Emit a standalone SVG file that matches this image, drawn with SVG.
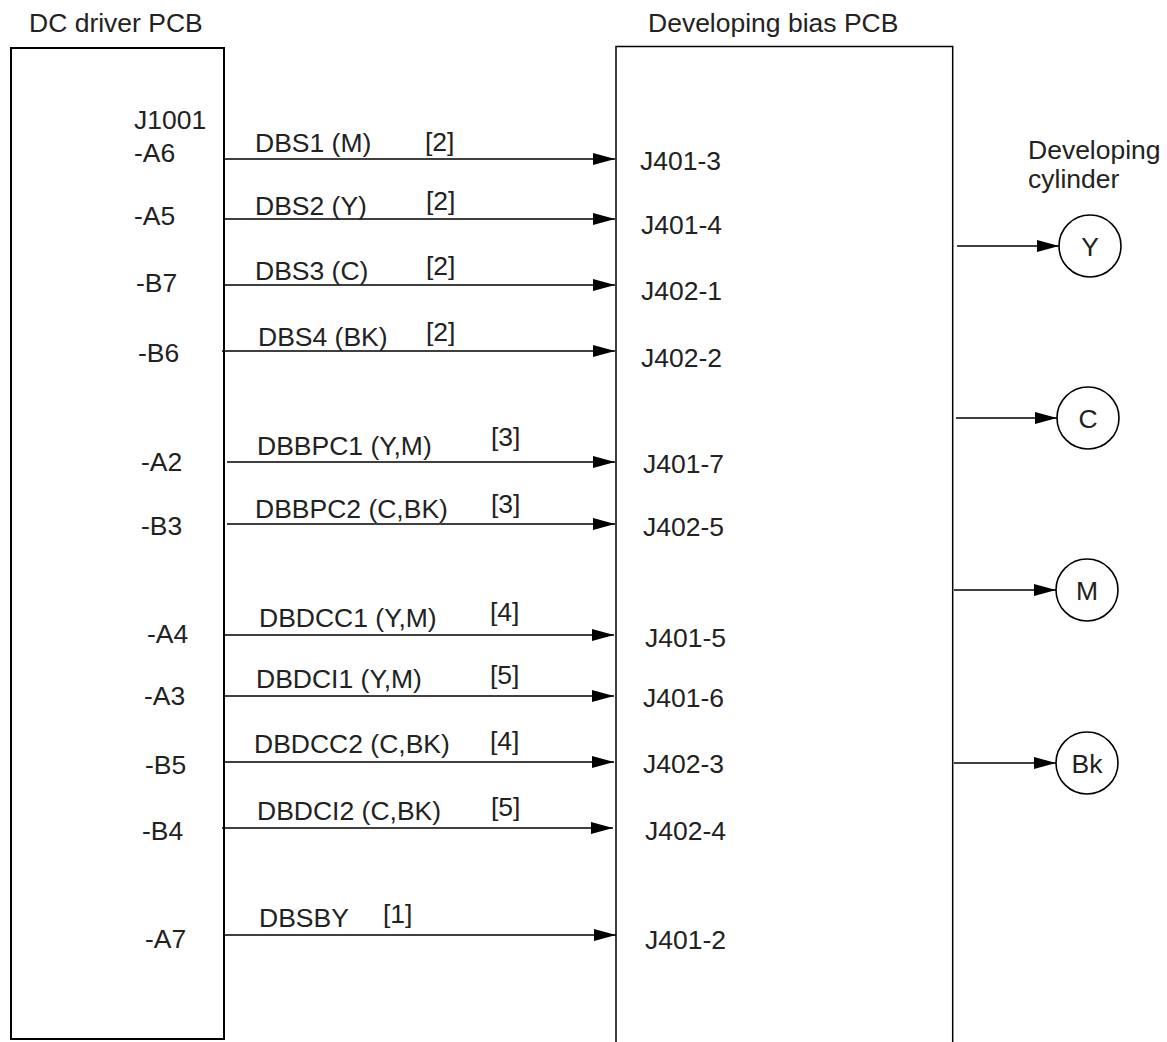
<svg xmlns="http://www.w3.org/2000/svg" width="1167" height="1042" viewBox="0 0 1167 1042">
<style>
text{font-family:"Liberation Sans",Arial,sans-serif;font-size:26.5px;fill:#222}
.box{fill:none;stroke:#000;stroke-width:2}
.rbox{fill:none;stroke:#000;stroke-width:1.5}
.wire{fill:none;stroke:#000;stroke-width:1.5;marker-end:url(#ah)}
.cyl{fill:#fff;stroke:#000;stroke-width:1.6}
.mid{text-anchor:middle}
</style>
<defs>
<marker id="ah" markerUnits="userSpaceOnUse" markerWidth="23" markerHeight="13" refX="22" refY="6" orient="auto">
<path d="M0,0 L22,6 L0,12 z" fill="#000"/>
</marker>
</defs>
<rect width="1167" height="1042" fill="#fff"/>

<g id="dc-driver-pcb">
<text x="29" y="32">DC driver PCB</text>
<rect class="box" x="11" y="48" width="213" height="991"/>
<text x="134" y="129">J1001</text>
<text x="134" y="162">-A6</text>
<text x="134" y="225">-A5</text>
<text x="136" y="292">-B7</text>
<text x="138" y="362">-B6</text>
<text x="141" y="471">-A2</text>
<text x="141" y="535">-B3</text>
<text x="147" y="643">-A4</text>
<text x="144" y="705">-A3</text>
<text x="145" y="774">-B5</text>
<text x="142" y="840">-B4</text>
<text x="145" y="948">-A7</text>
</g>

<g id="developing-bias-pcb">
<text x="648" y="32">Developing bias PCB</text>
<path class="rbox" d="M616,1042 V46.5 H952.7 V1042"/>
<text x="640" y="170">J401-3</text>
<text x="641" y="234">J401-4</text>
<text x="641" y="300">J402-1</text>
<text x="641" y="367">J402-2</text>
<text x="643" y="473">J401-7</text>
<text x="643" y="536">J402-5</text>
<text x="645" y="647">J401-5</text>
<text x="643" y="707">J401-6</text>
<text x="643" y="773">J402-3</text>
<text x="645" y="840">J402-4</text>
<text x="645" y="949">J401-2</text>
</g>

<g id="developing-cylinder-label">
<text x="1028" y="159">Developing</text>
<text x="1028" y="188">cylinder</text>
</g>
<g id="cyl-Y">
<circle class="cyl" cx="1090" cy="246" r="31"/>
<text class="mid" x="1090" y="256">Y</text>
</g>
<g id="cyl-C">
<circle class="cyl" cx="1088" cy="418" r="31"/>
<text class="mid" x="1088" y="428">C</text>
</g>
<g id="cyl-M">
<circle class="cyl" cx="1087" cy="590" r="31"/>
<text class="mid" x="1087" y="600">M</text>
</g>
<g id="cyl-Bk">
<circle class="cyl" cx="1087" cy="763" r="31"/>
<text class="mid" x="1087" y="773">Bk</text>
</g>

<g id="connectors">
<line class="wire" x1="224" y1="159" x2="615" y2="159"/>
<line class="wire" x1="224" y1="219" x2="615" y2="219"/>
<line class="wire" x1="224" y1="285" x2="615" y2="285"/>
<line class="wire" x1="222" y1="351" x2="615" y2="351"/>
<line class="wire" x1="227" y1="462" x2="615" y2="462"/>
<line class="wire" x1="227" y1="524" x2="615" y2="524"/>
<line class="wire" x1="224" y1="635" x2="614" y2="635"/>
<line class="wire" x1="224" y1="696" x2="614" y2="696"/>
<line class="wire" x1="224" y1="762" x2="614" y2="762"/>
<line class="wire" x1="222" y1="828" x2="613" y2="828"/>
<line class="wire" x1="224" y1="935" x2="616" y2="935"/>
<line class="wire" x1="957" y1="246" x2="1059" y2="246"/>
<line class="wire" x1="956" y1="418" x2="1057" y2="418"/>
<line class="wire" x1="954" y1="590" x2="1056" y2="590"/>
<line class="wire" x1="954" y1="763" x2="1056" y2="763"/>
<text x="255" y="152">DBS1 (M)</text><text x="425" y="151">[2]</text>
<text x="255" y="215">DBS2 (Y)</text><text x="426" y="210">[2]</text>
<text x="255" y="280">DBS3 (C)</text><text x="426" y="275">[2]</text>
<text x="258" y="346">DBS4 (BK)</text><text x="426" y="341">[2]</text>
<text x="257" y="455">DBBPC1 (Y,M)</text><text x="491" y="446">[3]</text>
<text x="255" y="518">DBBPC2 (C,BK)</text><text x="491" y="513">[3]</text>
<text x="259" y="627">DBDCC1 (Y,M)</text><text x="490" y="621">[4]</text>
<text x="256" y="688">DBDCI1 (Y,M)</text><text x="490" y="684">[5]</text>
<text x="254" y="753">DBDCC2 (C,BK)</text><text x="490" y="750">[4]</text>
<text x="257" y="820">DBDCI2 (C,BK)</text><text x="491" y="816">[5]</text>
<text x="259" y="927">DBSBY</text><text x="383" y="923">[1]</text>
</g>
</svg>
